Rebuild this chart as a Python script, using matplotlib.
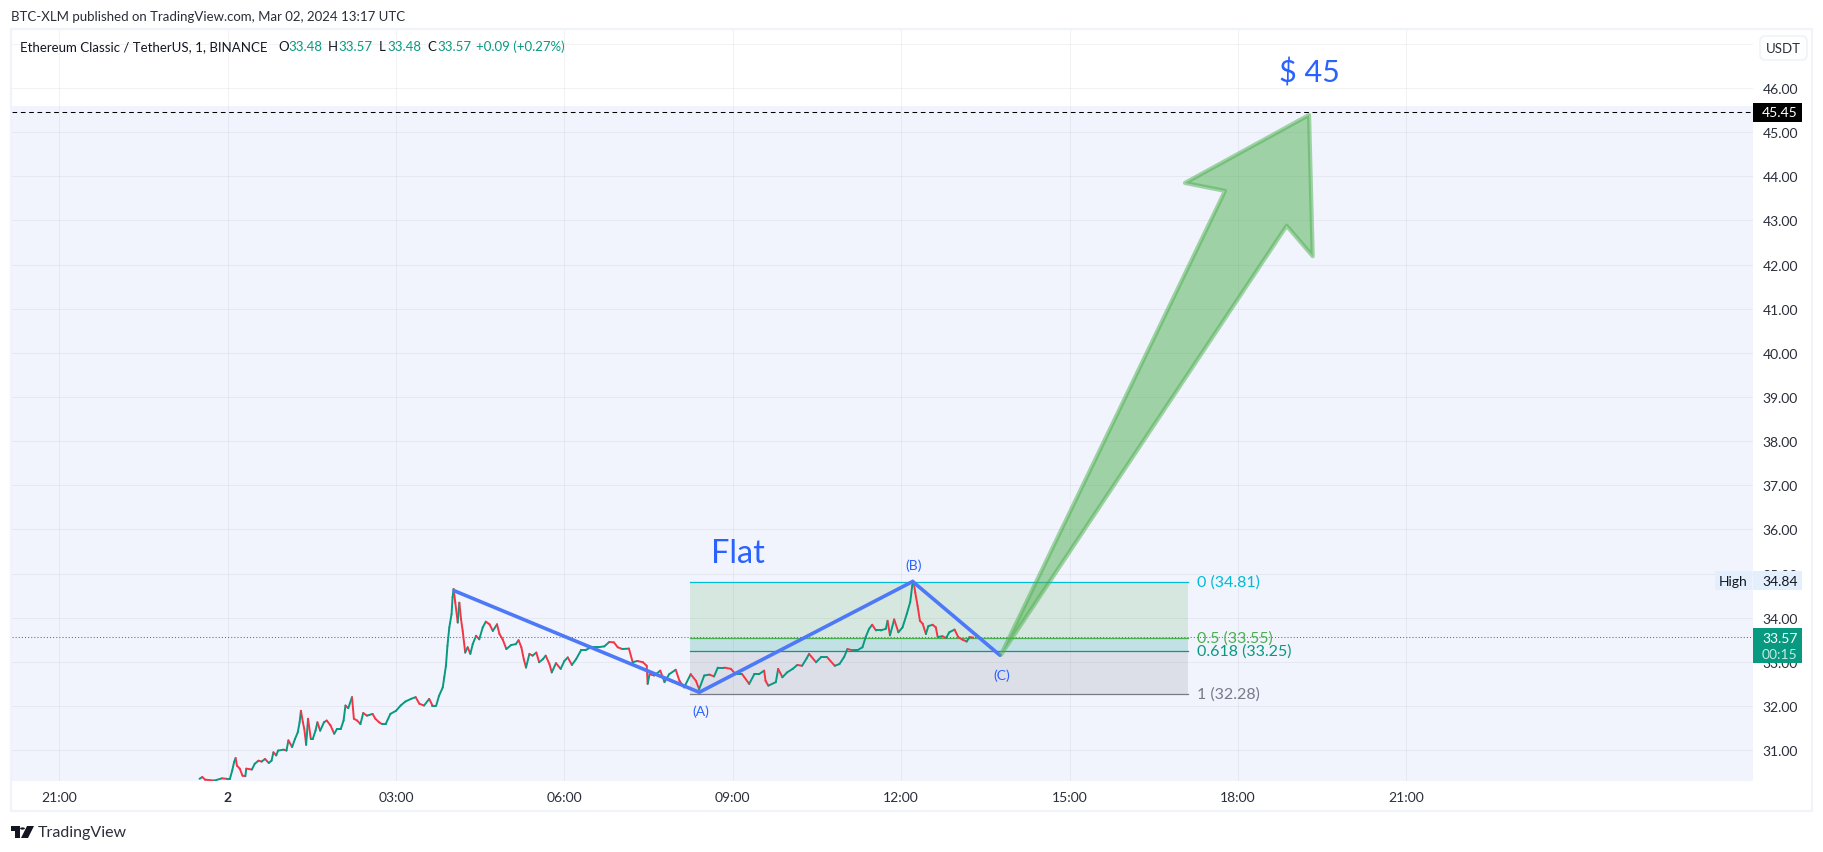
import matplotlib
matplotlib.use('Agg')
import matplotlib.pyplot as plt
from matplotlib.collections import LineCollection
from matplotlib.patches import Rectangle, Polygon, FancyBboxPatch
from matplotlib.transforms import blended_transform_factory, IdentityTransform

candle_min = [-30, -27, -24, -14, -6, -1, 2.5, 5, 7, 8.6, 10, 13, 16, 19, 20, 26, 29, 33, 36.5, 40, 44, 47, 49, 52, 54, 60,
              63, 65, 69, 72, 75, 77, 78.4, 80.5, 82, 84, 86, 89, 91, 94, 96, 99, 103, 106, 110, 114, 117, 121, 124, 126,
              129, 133, 135, 138.5, 142, 145, 149, 155, 158, 162, 165, 169, 174, 180, 185, 190, 196, 201, 205, 210, 215.5,
              219, 223, 226, 230, 231.6, 233.4, 235, 237, 239.4, 240.5, 241.6, 243.4, 246, 247.7, 249.5, 251.3, 254, 256.6,
              259.5, 262, 265.6, 269, 272.7, 276, 280, 283.5, 288, 290.6, 294, 298, 303, 308, 311, 314, 316.6, 319, 322.6,
              326, 330, 333, 337, 340, 344, 346.5, 351, 356, 360, 363.6, 368, 372.5, 378, 383, 388.5, 395.6, 402.7, 408,
              413, 417, 422, 429, 433, 438, 444, 448, 449, 451, 456, 462.5, 467, 472, 479, 483, 488, 495, 500.6, 504, 509.5,
              515, 520, 524, 531, 538, 543, 550, 557.5, 563, 568, 573.5, 575, 578, 586, 588.5, 593, 598, 604, 609, 614, 619,
              621.5, 629, 634, 641, 649, 654, 659, 662.5, 668, 673, 678.6, 682, 685.7, 689, 693, 698, 703.6, 705.4, 708,
              712.5, 717, 721.4, 726, 729.6, 731.8, 733.2, 735, 737.5, 740, 743, 746.4, 749, 753.6, 757, 759, 764, 768,
              771.4, 777, 781, 785.7, 790, 793, 797]
candle_close = [30.35, 30.39, 30.33, 30.31, 30.36, 30.35, 30.35, 30.54, 30.73, 30.82, 30.65, 30.58, 30.42, 30.41, 30.58, 30.56,
                30.69, 30.76, 30.74, 30.80, 30.71, 30.76, 30.95, 30.88, 30.99, 31.01, 30.99, 31.22, 31.07, 31.25, 31.40, 31.63,
                31.89, 31.63, 31.48, 31.12, 31.71, 31.25, 31.25, 31.44, 31.63, 31.44, 31.63, 31.67, 31.56, 31.37, 31.48, 31.48,
                31.67, 32.01, 31.95, 32.20, 31.71, 31.67, 31.59, 31.84, 31.78, 31.82, 31.71, 31.63, 31.59, 31.59, 31.82, 31.89,
                32.01, 32.10, 32.16, 32.20, 32.05, 32.01, 32.16, 32.01, 32.01, 32.23, 32.42, 32.65, 32.91, 33.36, 33.78, 34.08,
                34.46, 34.65, 34.34, 33.89, 34.34, 33.97, 33.70, 33.21, 33.33, 33.18, 33.40, 33.59, 33.51, 33.78, 33.91, 33.85,
                33.70, 33.85, 33.63, 33.51, 33.29, 33.38, 33.40, 33.49, 33.33, 33.06, 32.87, 33.18, 33.14, 33.21, 32.99, 33.06,
                33.14, 32.95, 32.76, 32.97, 32.84, 33.02, 33.10, 32.93, 33.06, 33.27, 33.27, 33.33, 33.33, 33.35, 33.45, 33.44,
                33.33, 33.29, 33.30, 32.99, 33.02, 32.99, 32.91, 32.50, 32.72, 32.69, 32.80, 32.54, 32.72, 32.82, 32.57, 32.42,
                32.72, 32.57, 32.38, 32.69, 32.71, 32.67, 32.87, 32.87, 32.84, 32.72, 32.72, 32.50, 32.72, 32.72, 32.80, 32.57,
                32.46, 32.54, 32.84, 32.65, 32.76, 32.84, 32.93, 32.91, 33.08, 33.18, 32.99, 33.10, 33.10, 32.91, 32.95, 33.11,
                33.29, 33.26, 33.26, 33.33, 33.56, 33.75, 33.84, 33.71, 33.71, 33.75, 33.93, 33.60, 33.96, 33.67, 33.78, 34.09,
                34.35, 34.73, 34.82, 34.57, 34.27, 33.93, 33.86, 33.63, 33.81, 33.84, 33.78, 33.56, 33.58, 33.54, 33.67, 33.73,
                33.56, 33.50, 33.46, 33.56, 33.55]

# blue abc drawing
wave_min = [242.3, 504.2, 732.2, 825.5]
wave_price = [34.61, 32.31, 34.82, 33.15]

# green target arrow outline
arrow_min = [826.6, 1132.0, 1159.8, 1155.9, 1023.3, 1066.1]
arrow_price = [33.16, 42.88, 42.19, 45.39, 43.85, 43.67]

fib_start, fib_end = 494.6, 1027.0
fib_levels = [34.81, 33.55, 33.25, 32.28]
fib_names = ['0 (34.81)', '0.5 (33.55)', '0.618 (33.25)', '1 (32.28)']
fib_colors = ['#00bcd4', '#4caf50', '#089981', '#787b86']

hour_ticks = [-180, 0, 180, 360, 540, 720, 900, 1080, 1260]
hour_labels = ['21:00', '2', '03:00', '06:00', '09:00', '12:00', '15:00', '18:00', '21:00']
price_ticks = list(range(31, 47))

target_price = 45.45
last_price = 33.57
high_price = 34.84
band_top = 45.59

W, H = 1824, 853
FONT = 'Lato'
TXT = '#131722'
GREEN = '#089981'
RED = '#f23645'
BLUE = '#2962ff'
FS = 9.5

plt.rcParams['font.family'] = FONT

fig = plt.figure(figsize=(W / 100, H / 100), dpi=100, facecolor='white')
ax = fig.add_axes([12 / W, (H - 782) / H, (1753 - 12) / W, (782 - 31) / H])
ax.set_xlim(-230.4, 1630.4)
ax.set_ylim(30.30, 47.315)
for s in ax.spines.values():
    s.set_visible(False)

ax.set_xticks(hour_ticks)
ax.set_xticklabels(hour_labels, fontsize=10, color='#2a2e39')
ax.get_xticklabels()[1].set_fontweight('bold')
ax.yaxis.tick_right()
ax.set_yticks(price_ticks)
ax.set_yticklabels(['%.2f' % p for p in price_ticks], fontsize=10, color='#2a2e39')
ax.tick_params(axis='both', length=0)
ax.tick_params(axis='x', pad=7)
ax.tick_params(axis='y', pad=7)
ax.grid(True, color='#2a2e39', alpha=0.06, linewidth=0.75)
ax.axhline(47, color='#2a2e39', alpha=0.06, linewidth=0.75)
ax.set_axisbelow(True)

# pale blue band behind everything
ax.add_patch(Rectangle((-230.4, 30.30), 1860.8, band_top - 30.30, facecolor='#f1f3fd', edgecolor='none', zorder=0.5))

# fib fills and lines
fill_cols = ['#4caf50', '#089981', '#787b86']
fill_alpha = [0.17, 0.2, 0.17]
for i in range(3):
    ax.add_patch(Rectangle((fib_start, fib_levels[i + 1]), fib_end - fib_start, fib_levels[i] - fib_levels[i + 1],
                           facecolor=fill_cols[i], alpha=fill_alpha[i], edgecolor='none', zorder=2))
for lev, name, c in zip(fib_levels, fib_names, fib_colors):
    ax.plot([fib_start, fib_end], [lev, lev], color=c, linewidth=0.9, zorder=2.2)
    ax.annotate(name, (fib_end, lev), xytext=(6, 0), textcoords='offset points', color=c, fontsize=11.5, va='center', ha='left', zorder=3)

# price lines
ax.axhline(target_price, color='black', linewidth=0.75, dashes=(4.5, 3.5), zorder=2.5)
ax.axhline(last_price, color=GREEN, linewidth=0.75, dashes=(1, 2), zorder=2.5)

# candles
segs, cols = [], []
for i in range(1, len(candle_min)):
    segs.append([(candle_min[i - 1], candle_close[i - 1]), (candle_min[i], candle_close[i])])
    cols.append(GREEN if candle_close[i] >= candle_close[i - 1] else RED)
ax.add_collection(LineCollection(segs, colors=cols, linewidths=1.4, zorder=3, capstyle='round'))

# abc wave
ax.plot(wave_min, wave_price, color='#4d78f8', linewidth=2.6, zorder=4, solid_capstyle='round', solid_joinstyle='miter')
for lab, t, p, dy in zip(['(A)', '(B)', '(C)'], wave_min[1:], wave_price[1:], [-13.5, 12, -14]):
    ax.annotate(lab, (t, p), xytext=(1, dy), textcoords='offset points', color=BLUE, fontsize=10, ha='center', va='center', zorder=5)

ax.add_patch(Polygon(list(zip(arrow_min, arrow_price)), closed=True, facecolor=(0.30, 0.69, 0.31, 0.5),
                     edgecolor=(0.30, 0.69, 0.31, 0.5), linewidth=3, joinstyle='round', zorder=4.5))

ax.text(546, 35.46, 'Flat', color=BLUE, fontsize=23.5, ha='center', va='center', zorder=5)
ax.text(1156, 46.36, '$ 45', color=BLUE, fontsize=22, ha='center', va='center', zorder=5)

# price tags on the axis, x in pixels and y in price
tr = blended_transform_factory(IdentityTransform(), ax.transData)
px = 1 / 44.14


def tag(price, x0, x1, h, color, zorder=6):
    ax.add_patch(Rectangle((x0, price - h * px / 2), x1 - x0, h * px, transform=tr, facecolor=color, edgecolor='none', clip_on=False, zorder=zorder))


lab_kw = dict(transform=tr, fontsize=10, ha='left', va='center', zorder=7, clip_on=False)
tag(high_price, 1715, 1752, 19, '#e3effd')
tag(high_price, 1753, 1802, 19, '#e3effd')
ax.text(1719, high_price, 'High', color=TXT, **lab_kw)
ax.text(1762, high_price, '%.2f' % high_price, color=TXT, **lab_kw)
tag(target_price, 1753, 1802, 19, '#000000')
ax.text(1762, target_price, '%.2f' % target_price, color='white', **lab_kw)
tag(33.37, 1753, 1802, 35, GREEN)
ax.text(1762, last_price - 0.02, '%.2f' % last_price, color='white', **lab_kw)
ax.text(1762, last_price - 0.40, '00:15', color='#c5ebe2', **lab_kw)

# frame round chart + price scale
frame = '#f0f3fa'
fig.add_artist(Rectangle((11 / W, (H - 812) / H), (1812 - 11) / W, (812 - 30) / H, transform=fig.transFigure,
                         facecolor='none', edgecolor=frame, linewidth=1.6, zorder=1))
fig.add_artist(FancyBboxPatch((1760 / W, (H - 61) / H), 47 / W, 24 / H, boxstyle='round,pad=0,rounding_size=0.003',
                              transform=fig.transFigure, facecolor='white', edgecolor=frame, linewidth=1.2, mutation_aspect=2.1))


def px_text(x, y, s, **kw):
    fig.text(x / W, 1 - y / H, s, va='center', **kw)


px_text(1783, 49, 'USDT', fontsize=FS, color='#2a2e39', ha='center')
px_text(11, 17, 'BTC-XLM published on TradingView.com, Mar 02, 2024 13:17 UTC', fontsize=FS, color='#2a2e39')
px_text(20, 47, 'Ethereum Classic / TetherUS, 1, BINANCE', fontsize=FS, color=TXT)
for x, s in [(278, 'O'), (328, 'H'), (379, 'L'), (427, 'C')]:
    px_text(x, 47, s, fontsize=FS, color=TXT)
for x, s in [(288, '33.48'), (338, '33.57'), (387, '33.48'), (437, '33.57'), (476, '+0.09 (+0.27%)')]:
    px_text(x, 47, s, fontsize=FS, color=GREEN)
px_text(38, 833, 'TradingView', fontsize=11.5, color='#2a2e39')

# little logo bottom left
logo = '#131722'
for pts in ([(11, 827), (20, 827), (20, 839), (15, 839), (15, 832), (11, 832)],
            [(27, 827), (34, 827), (28, 839), (21, 839)]):
    fig.add_artist(Polygon([(x / W, 1 - y / H) for x, y in pts], transform=fig.transFigure, facecolor=logo, edgecolor='none'))
fig.add_artist(plt.Circle((22.5 / W, 1 - 829.5 / H), 2.4 / W, transform=fig.transFigure, facecolor=logo, edgecolor='none'))

plt.savefig('out.png', dpi=100)
